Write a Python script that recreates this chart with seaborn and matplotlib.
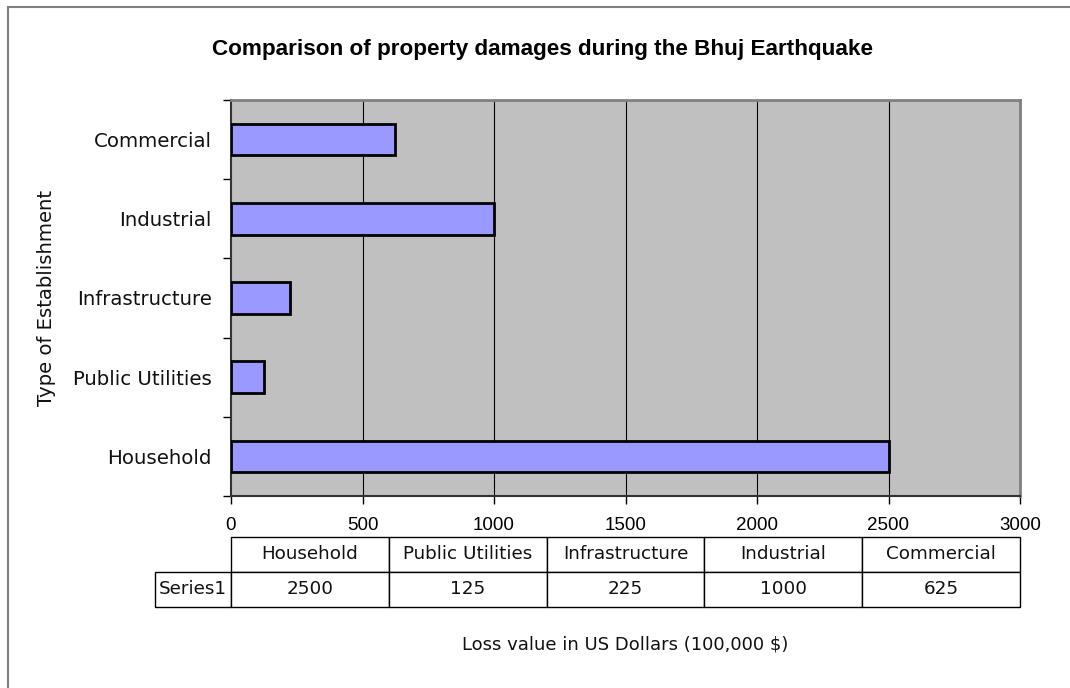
import matplotlib
matplotlib.use("Agg")
import matplotlib.pyplot as plt
import seaborn as sns
import pandas as pd
from matplotlib.patches import Rectangle

categories = ["Household", "Public Utilities", "Infrastructure", "Industrial", "Commercial"]
values = [2500, 125, 225, 1000, 625]
series_name = "Series1"
x_ticks = [0, 500, 1000, 1500, 2000, 2500, 3000]

title = "Comparison of property damages during the Bhuj Earthquake"
x_label = "Loss value in US Dollars (100,000 $)"
y_label = "Type of Establishment"

sns.set_theme(style="white")
plt.rcParams["font.family"] = ["DejaVu Sans"]

df = pd.DataFrame({"category": categories, "value": values})

fig = plt.figure(figsize=(10.7, 6.88), dpi=100)
W, H = 1070, 688
ax = fig.add_axes([231 / W, 1 - 496 / H, 789 / W, 396 / H])
ax.set_facecolor("#C0C0C0")

sns.barplot(data=df, y="category", x="value", order=categories[::-1], orient="h",
            color="#9999FF", saturation=1, width=0.4, edgecolor="black",
            linewidth=2, ax=ax, zorder=3)

ax.set_xlim(0, 3000)
ax.set_ylim(4.5, -0.5)
ax.set_xticks(x_ticks)
ax.set_xticklabels([str(t) for t in x_ticks])
for t in x_ticks[1:-1]:
    ax.axvline(t, color="black", lw=0.8, zorder=1)

# y category labels and boundary ticks
ax.set_yticks(range(len(categories)))
ax.set_yticklabels(categories[::-1])
ax.tick_params(axis="y", length=0, pad=14)
ax.set_yticks([i - 0.5 for i in range(len(categories) + 1)], minor=True)
ax.tick_params(axis="y", which="minor", length=6, width=1, color="black", direction="out", left=True)
ax.tick_params(axis="x", length=6, width=1, color="black", direction="out", bottom=True, pad=9)
for lab in ax.get_xticklabels():
    lab.set_fontsize(13.5)
    lab.set_family("Liberation Sans")
    lab.set_color("black")
for lab in ax.get_yticklabels():
    lab.set_fontsize(14.2)
    lab.set_color("#111111")
ax.set_xlabel("")
ax.set_ylabel(y_label, fontsize=14.1, color="#111111")
ax.yaxis.set_label_coords(-0.222, 0.5)

for side in ["top", "right"]:
    ax.spines[side].set_visible(True)
    ax.spines[side].set_color("#808080")
    ax.spines[side].set_linewidth(2)
for side in ["left", "bottom"]:
    ax.spines[side].set_color("#333333")
    ax.spines[side].set_linewidth(1.5)

# data table (first column holds the series name; header corner left open)
label_w = 76 / 789
col_w = 1 / len(categories)
cell_text = [[""] + categories, [series_name] + [str(v) for v in values]]
tbl = ax.table(cellText=cell_text, cellLoc="center",
               colWidths=[label_w] + [col_w] * len(categories),
               bbox=[-label_w, (496 - 607) / 396, 1 + label_w, 70 / 396])
tbl.auto_set_font_size(False)
tbl.set_fontsize(13.2)
for (r, c), cell in tbl.get_celld().items():
    cell.set_linewidth(1)
    cell.set_edgecolor("black")
    cell.get_text().set_color("#111111")
    if c == 0:
        cell.PAD = 0.02
        cell._loc = "left"
        if r == 0:
            cell.visible_edges = ""

fig.text(625 / W, 1 - 645 / H, x_label, ha="center", va="center", fontsize=13, color="#111111")
fig.text(542 / W, 1 - 50 / H, title, ha="center", va="center", fontsize=16.2,
         fontweight="bold", family="Liberation Sans", color="black")

fig.patches.append(Rectangle((8 / W, -0.05), 1.1, 1 - 7 / H + 0.05, transform=fig.transFigure,
                             fill=False, edgecolor="#808080", lw=1.5, zorder=0))

fig.savefig("out.png", dpi=100)
